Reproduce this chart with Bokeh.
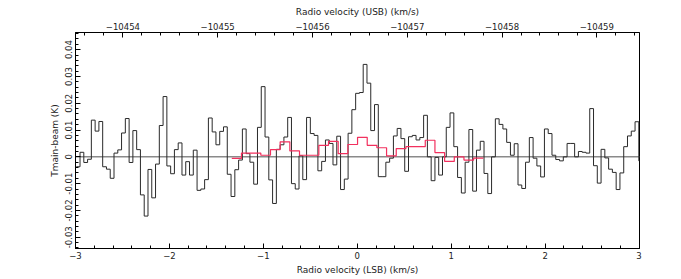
import numpy as np
from bokeh.plotting import figure
from bokeh.models import Range1d, LinearAxis, FixedTicker, Span, CustomJSTickFormatter
from bokeh.embed import file_html
from bokeh.resources import INLINE

# ---- data -------------------------------------------------------------
# black spectrum: channel left edge of first channel and channel width (km/s, LSB)
spec_v_start = -2.992
spec_dv = 0.0402
spec_T = [
    -0.0037, 0.0017, -0.0021, -0.0009, 0.0137, 0.0096, 0.0132, -0.0037, -0.0046, -0.0080,
    0.0014, 0.0026, 0.0089, 0.0143, -0.0021, 0.0098, 0.0027, -0.0142, -0.0221, -0.0047,
    -0.0153, -0.0027, 0.0117, 0.0225, -0.0034, -0.0063, 0.0027, 0.0052, -0.0068, -0.0018,
    -0.0068, 0.0025, -0.0125, -0.0120, -0.0085, 0.0145, 0.0093, 0.0045, 0.0095, 0.0112,
    -0.0065, -0.0148, -0.0048, -0.0012, 0.0104, 0.0012, -0.0020, -0.0102, 0.0110, 0.0262,
    0.0074, -0.0086, -0.0174, 0.0028, 0.0045, 0.0074, 0.0147, -0.0100, -0.0120, 0.0004,
    -0.0085, 0.0147, 0.0087, 0.0080, -0.0052, -0.0017, 0.0063, 0.0050, -0.0030, 0.0077,
    -0.0122, -0.0083, 0.0088, 0.0176, 0.0237, 0.0240, 0.0345, 0.0275, 0.0098, 0.0195,
    -0.0074, -0.0074, -0.0020, -0.0005, 0.0078, 0.0106, 0.0068, -0.0054, 0.0075, 0.0080,
    0.0063, 0.0072, 0.0155, 0.0000, -0.0089, -0.0002, -0.0068, 0.0000, 0.0110, 0.0164,
    0.0038, -0.0077, -0.0135, -0.0020, 0.0102, -0.0128, 0.0025, 0.0058, -0.0062, -0.0137,
    0.0000, 0.0142, 0.0121, 0.0104, 0.0054, 0.0006, 0.0049, -0.0105, -0.0118, -0.0020,
    0.0072, -0.0005, -0.0034, -0.0075, 0.0104, 0.0087, 0.0006, -0.0010, -0.0015, 0.0000,
    0.0050, 0.0050, 0.0000, 0.0020, 0.0017, 0.0014, 0.0180, -0.0033, -0.0098, 0.0028,
    -0.0004, -0.0046, -0.0058, -0.0122, -0.0060, 0.0038, 0.0078, 0.0096, 0.0131, -0.0015,
]

# red (smoothed) spectrum
smooth_v_start = -1.336
smooth_dv = 0.103
smooth_T = [
    -0.0006, 0.0014, 0.0014, 0.0006, 0.0027, 0.0056, 0.0022, 0.0006, 0.0006, 0.0043,
    0.0058, 0.0012, 0.0046, 0.0073, 0.0043, 0.0034, 0.0004, 0.0031, 0.0038, 0.0038,
    0.0062, 0.0016, -0.0017, 0.0000, -0.0012, -0.0005,
]

# axes
lsb_range = (-3.0, 3.005)
usb_range = (-10453.50, -10459.45)
t_range = (-0.0342, 0.0464)
lsb_ticks = [-3, -2, -1, 0, 1, 2, 3]
usb_ticks = [-10454, -10455, -10456, -10457, -10458, -10459]
t_ticks = [-0.03, -0.02, -0.01, 0.0, 0.01, 0.02, 0.03, 0.04]

# ---- figure -----------------------------------------------------------
FONT = "DejaVu Sans"
p = figure(frame_width=564, frame_height=216, output_backend="svg", toolbar_location=None,
           x_range=Range1d(*lsb_range), y_range=Range1d(*t_range),
           min_border_left=75, min_border_right=30, min_border_top=32, min_border_bottom=24,
           x_axis_label="Radio velocity (LSB) (km/s)", y_axis_label="Tmain-beam (K)")
p.grid.visible = False
p.outline_line_color = "black"
p.outline_line_width = 1
p.background_fill_color = "white"

bottom = p.below[0]
left = p.left[0]

p.extra_x_ranges = {"usb": Range1d(*usb_range)}
top = LinearAxis(x_range_name="usb", axis_label="Radio velocity (USB) (km/s)")
p.add_layout(top, "above")

bottom.ticker = FixedTicker(ticks=lsb_ticks,
                            minor_ticks=list(np.round(np.arange(-3.0, 3.01, 0.2), 2)))
top.ticker = FixedTicker(ticks=usb_ticks,
                         minor_ticks=list(np.round(np.arange(-10459.4, -10453.4, 0.2), 2)))
left.ticker = FixedTicker(ticks=t_ticks,
                          minor_ticks=list(np.round(np.arange(-0.034, 0.047, 0.002), 4)))
left.formatter = CustomJSTickFormatter(
    code="return Math.abs(tick) < 1e-9 ? '0' : tick.toFixed(2);")
left.major_label_orientation = "vertical"

for ax in [bottom, top, left]:
    ax.axis_line_color = "black"
    ax.axis_line_width = 1
    ax.major_tick_line_color = "black"
    ax.minor_tick_line_color = "black"
    ax.major_tick_in = 5
    ax.major_tick_out = 0
    ax.minor_tick_in = 3
    ax.minor_tick_out = 0
    ax.major_label_text_font = FONT
    ax.major_label_text_font_size = "8.5px"
    ax.major_label_text_color = "#222222"
    ax.axis_label_text_font = FONT
    ax.axis_label_text_font_size = "9px"
    ax.axis_label_text_font_style = "normal"
    ax.axis_label_text_color = "#222222"
    ax.major_label_standoff = 3
    ax.axis_label_standoff = 3

# zero line
p.add_layout(Span(location=0, dimension="width", line_color="#8a8a8a",
                  line_width=1.5, level="underlay"))

# black spectrum
edges = spec_v_start + spec_dv * np.arange(len(spec_T) + 1)
p.step(x=list(edges), y=spec_T + [spec_T[-1]], mode="after",
       line_color="#2a2a2a", line_width=1)

# red spectrum
sedges = smooth_v_start + smooth_dv * np.arange(len(smooth_T) + 1)
p.step(x=list(sedges), y=smooth_T + [smooth_T[-1]], mode="after",
       line_color="#f2305e", line_width=1.2)

open("out.html", "w").write(file_html(p, INLINE))
